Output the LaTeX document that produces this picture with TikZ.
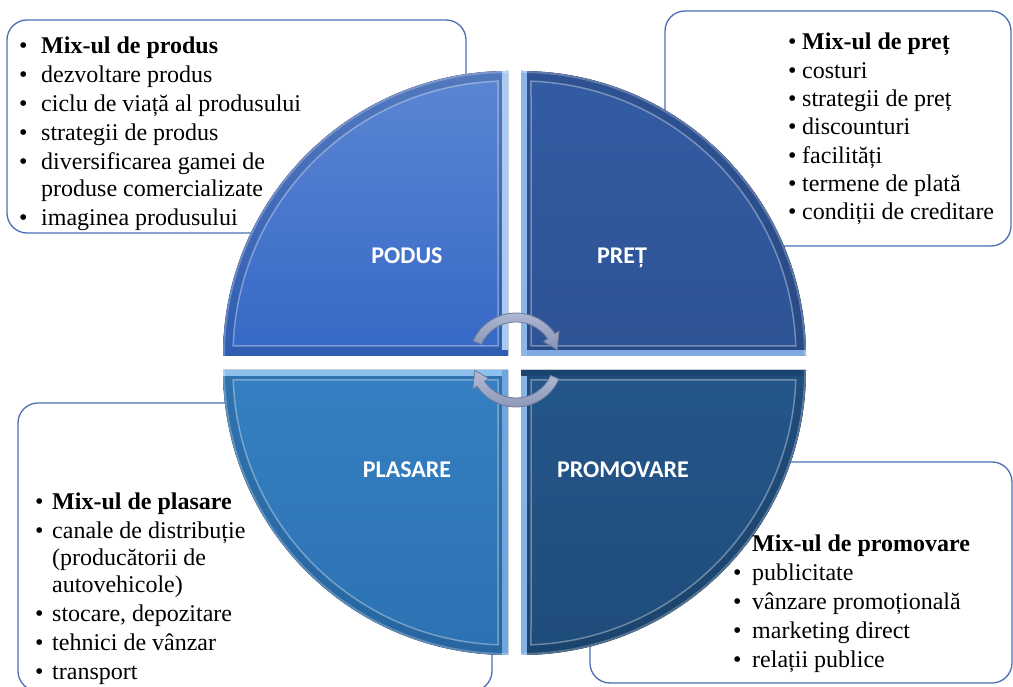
\documentclass[tikz,border=0pt]{standalone}
\usepackage{fontspec}
\setmainfont{Liberation Serif}
\newfontfamily\quadfont{Carlito}
\usetikzlibrary{calc}

\definecolor{boxblue}{HTML}{4A6FB5}
\definecolor{arrowfill}{HTML}{B3BCD6}
\definecolor{arrowdark}{HTML}{8893B5}
\definecolor{arrowline}{HTML}{6E7A9C}
% quarter colours
\definecolor{tlTop}{HTML}{5C86D3}\definecolor{tlBot}{HTML}{3568C6}
\definecolor{tlHiA}{HTML}{A9CBF2}\definecolor{tlHiB}{HTML}{2F5DB0}
\definecolor{trTop}{HTML}{345CA3}\definecolor{trBot}{HTML}{2D5395}
\definecolor{trHiA}{HTML}{7FA9E0}\definecolor{trHiB}{HTML}{8DB6EA}
\definecolor{blTop}{HTML}{3580C2}\definecolor{blBot}{HTML}{2C72B3}
\definecolor{blHiA}{HTML}{8EC0EE}\definecolor{blHiB}{HTML}{6FA6DD}
\definecolor{brTop}{HTML}{25568A}\definecolor{brBot}{HTML}{1F4C7A}
\definecolor{brHiA}{HTML}{86B4E6}\definecolor{brHiB}{HTML}{1B4470}

\tikzset{
  infobox/.style={draw=boxblue, line width=1.3pt, rounded corners=20pt, fill=white},
  quadlabel/.style={font=\quadfont\bfseries\fontsize{24}{28}\selectfont, text=white, inner sep=0pt, anchor=base},
  listtext/.style={font=\fontsize{24}{27}\selectfont, inner sep=0pt, anchor=base west},
  cyclearrow/.style={top color=arrowfill, bottom color=arrowdark, draw=arrowline, line width=0.8pt, line join=round}
}

\def\R{285}
\def\bev{10}

% quarter of the disc: #1 centre, #2 start angle, #3 top colour, #4 bottom colour,
% #5 highlight of the edge along #2, #6 highlight of the edge along #2+90
\newcommand{\quarterdisk}[6]{%
  \pgfmathsetmacro{\da}{asin(\bev/(\R-\bev))}
  \fill[top color=#3, bottom color=#4]
    (#1) -- ++(#2:\R) arc[start angle=#2, end angle=#2+90, radius=\R] -- cycle;
  \begin{scope}
    \clip (#1) -- ++(#2:\R) arc[start angle=#2, end angle=#2+90, radius=\R] -- cycle;
    % bevel band between the rim and the inset outline
    \fill[black, fill opacity=.10, even odd rule]
      (#1) -- ++(#2:\R) arc[start angle=#2, end angle=#2+90, radius=\R] -- cycle
      ($(#1)+({#2+45}:{\bev*1.41421})$) -- ($(#1)+({#2+\da}:{\R-\bev})$)
      arc[start angle={#2+\da}, end angle={#2+90-\da}, radius={\R-\bev}] -- cycle;
    % bright strips along the straight edges
    \draw[#5, line width=6pt]
      ($(#1)+({#2+90}:3)$) -- ($(#1)+(#2:\R)+({#2+90}:3)$);
    \draw[#6, line width=6pt]
      ($(#1)+(#2:3)$) -- ($(#1)+({#2+90}:\R)+(#2:3)$);
    % inset outline of the bevel
    \draw[white, draw opacity=.35, line width=1.5pt]
      ($(#1)+({#2+45}:{\bev*1.41421})$) -- ($(#1)+({#2+\da}:{\R-\bev})$)
      arc[start angle={#2+\da}, end angle={#2+90-\da}, radius={\R-\bev}] -- cycle;
    % soft outer rim
    \draw[white, draw opacity=.25, line width=2pt]
      ($(#1)+(#2:{\R-1})$) arc[start angle=#2, end angle=#2+90, radius={\R-1}];
  \end{scope}
}

% curved arrow: #1 centre, #2 tail angle, #3 head base angle, #4 tip angle
\newcommand{\turnarrow}[4]{%
  \path[cyclearrow]
    ($(#1)+(#2:47)$) arc[start angle=#2, end angle=#3, radius=47]
    -- ($(#1)+(#3:52)$) -- ($(#1)+(#4:42.5)$) -- ($(#1)+(#3:33)$)
    -- ($(#1)+(#3:38)$) arc[start angle=#3, end angle=#2, radius=38] -- cycle;
}

\begin{document}
\begin{tikzpicture}[x=1pt, y=1pt]
  \useasboundingbox (0,0) rectangle (1013,687);
  \fill[white] (0,0) rectangle (1013,687);

  % frames of the four text blocks
  \draw[infobox] (7,454) rectangle (466,667);
  \draw[infobox] (665,441) rectangle (1011,676);
  \draw[infobox] (18,-4) rectangle (492,284);
  \draw[infobox] (590,4) rectangle (1012,225);

  % the four quarters of the disc
  \coordinate (cTL) at (508,331);
  \coordinate (cTR) at (521,331);
  \coordinate (cBL) at (508,317);
  \coordinate (cBR) at (521,317);
  \quarterdisk{cTL}{90}{tlTop}{tlBot}{tlHiA}{tlHiB}
  \quarterdisk{cTR}{0}{trTop}{trBot}{trHiA}{trHiB}
  \quarterdisk{cBL}{180}{blTop}{blBot}{blHiA}{blHiB}
  \quarterdisk{cBR}{270}{brTop}{brBot}{brHiA}{brHiB}

  % quarter titles
  \node[quadlabel] (podus) at (407,423.5) {PODUS};
  \node[quadlabel] (pret) at (622,423.5) {PREȚ};
  \node[quadlabel] (plasare) at (407,209.5) {PLASARE};
  \node[quadlabel] (promovare) at (623,209.5) {PROMOVARE};

  % turning arrows in the middle
  \coordinate (turn) at (516,327);
  \turnarrow{turn}{156}{34}{14}
  \turnarrow{turn}{-24}{-146}{-166}

  % product mix
  \node[listtext] (listTL) at (19,633) {%
    \begin{tabular}[t]{@{}l@{}l@{}}
      \makebox[22pt][l]{\textbullet} & \textbf{Mix-ul de produs}\\[2pt]
      \textbullet & dezvoltare produs\\[2pt]
      \textbullet & ciclu de viață al produsului\\[2pt]
      \textbullet & strategii de produs\\[2pt]
      \textbullet & diversificarea gamei de\\
                  & produse comercializate\\[2pt]
      \textbullet & imaginea produsului
    \end{tabular}};

  % price mix
  \node[listtext] (listTR) at (788,637) {%
    \begin{tabular}[t]{@{}l@{}l@{}}
      \makebox[14pt][l]{\textbullet} & \textbf{Mix-ul de preț}\\[1.3pt]
      \textbullet & costuri\\[1.3pt]
      \textbullet & strategii de preț\\[1.3pt]
      \textbullet & discounturi\\[1.3pt]
      \textbullet & facilități\\[1.3pt]
      \textbullet & termene de plată\\[1.3pt]
      \textbullet & condiții de creditare
    \end{tabular}};

  % placement mix
  \node[listtext] (listBL) at (35,177) {%
    \begin{tabular}[t]{@{}l@{}l@{}}
      \makebox[17pt][l]{\textbullet} & \textbf{Mix-ul de plasare}\\[2pt]
      \textbullet & canale de distribuție\\
                  & (producătorii de\\
                  & autovehicole)\\[2pt]
      \textbullet & stocare, depozitare\\[2pt]
      \textbullet & tehnici de vânzar\\[2pt]
      \textbullet & transport
    \end{tabular}};

  % promotion mix
  \node[listtext] (listBR) at (733,135) {%
    \begin{tabular}[t]{@{}l@{}l@{}}
      \makebox[19pt][l]{} & \textbf{Mix-ul de promovare}\\[2pt]
      \textbullet & publicitate\\[2pt]
      \textbullet & vânzare promoțională\\[2pt]
      \textbullet & marketing direct\\[2pt]
      \textbullet & relații publice
    \end{tabular}};
\end{tikzpicture}
\end{document}
